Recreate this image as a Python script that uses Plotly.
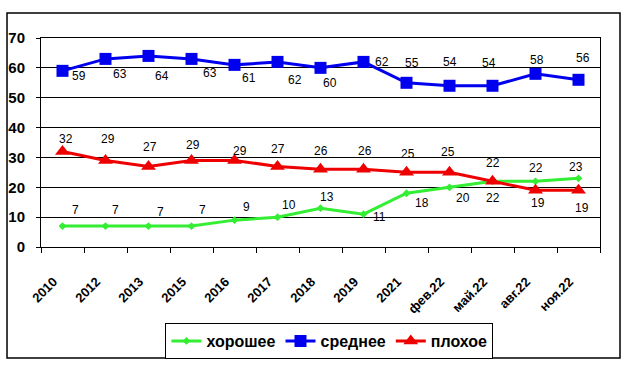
import plotly.graph_objects as go

categories = ["2010", "2012", "2013", "2015", "2016", "2017", "2018", "2019",
              "2021", "фев.22", "май.22", "авг.22", "ноя.22"]
good = [7, 7, 7, 7, 9, 10, 13, 11, 18, 20, 22, 22, 23]
medium = [59, 63, 64, 63, 61, 62, 60, 62, 55, 54, 54, 58, 56]
bad = [32, 29, 27, 29, 29, 27, 26, 26, 25, 25, 22, 19, 19]
y_ticks = [0, 10, 20, 30, 40, 50, 60, 70]

# label pixel offsets (styling)
good_off = [(13, 16), (10, 16), (12, 14), (11, 16), (12, 13), (11, 12), (6, 11),
            (16, -3), (15, -10), (13, -11), (0, -17), (0, 13), (-3, 11)]
medium_off = [(16, -5), (14, -15), (13, -20), (18, -14), (14, -13), (17, -18), (9, -15),
              (18, 0), (5, 20), (0, 24), (-4, 23), (1, 14), (4, 22)]
bad_off = [(3, 12), (2, 21), (1, 19), (1, 15), (5, 9), (0, 17), (0, 18),
           (1, 18), (1, 18), (-2, 20), (0, 18), (2, -13), (3, -18)]

FONT = "Liberation Sans, Arial, sans-serif"

fig = go.Figure()
fig.add_trace(go.Scatter(x=categories, y=good, name="хорошее", mode="lines+markers",
                         line=dict(color="#33EE33", width=3),
                         marker=dict(symbol="diamond", size=6, color="#33EE33")))
fig.add_trace(go.Scatter(x=categories, y=medium, name="среднее", mode="lines+markers",
                         line=dict(color="#0000EE", width=3),
                         marker=dict(symbol="square", size=12, color="#0000EE")))
fig.add_trace(go.Scatter(x=categories, y=bad, name="плохое", mode="lines+markers",
                         line=dict(color="#EE0000", width=3),
                         marker=dict(symbol="triangle-up", size=13, color="#EE0000")))

annotations = []
for vals, offs in ((good, good_off), (medium, medium_off), (bad, bad_off)):
    for i, (v, (dx, dy)) in enumerate(zip(vals, offs)):
        annotations.append(dict(x=i, y=v, text=str(v), showarrow=False,
                                xshift=dx, yshift=dy,
                                font=dict(family=FONT, size=12, color="black")))

fig.update_layout(
    width=630, height=366,
    margin=dict(l=41, r=30, t=38, b=119, autoexpand=False),
    paper_bgcolor="white", plot_bgcolor="white",
    font=dict(family=FONT, color="black"),
    showlegend=True,
    legend=dict(orientation="h", x=0.516, xanchor="center", y=-0.45, yanchor="middle",
                bordercolor="black", borderwidth=1,
                font=dict(family=FONT, size=16, color="black", weight="bold"),
                itemwidth=30),
    annotations=annotations,
    shapes=[dict(type="rect", xref="paper", yref="paper",
                 x0=-0.0608, x1=1.0358, y0=-0.531, y1=1.1196,
                 line=dict(color="black", width=1.5), layer="below")],
)
fig.update_xaxes(type="category", categoryorder="array", categoryarray=categories,
                 range=[-0.5, len(categories) - 0.5], automargin=False,
                 tickson="boundaries", ticks="outside", ticklen=5,
                 tickcolor="black", showline=True, linecolor="black", linewidth=1,
                 mirror=True, showgrid=False, tickangle=-45,
                 ticklabelstandoff=21, ticklabelshift=-9,
                 tickfont=dict(family=FONT, size=13, color="black", weight="bold"))
fig.update_yaxes(range=[0, 70], tickvals=y_ticks, ticks="outside", ticklen=4,
                 tickcolor="black", showline=True, linecolor="black", linewidth=1,
                 mirror=True, showgrid=True, gridcolor="black", gridwidth=1,
                 zeroline=False, ticklabelstandoff=8, automargin=False,
                 tickfont=dict(family=FONT, size=15, color="black", weight="bold"))

fig.write_html("out.html", config={"displayModeBar": False},
               post_script="document.body.style.margin='0';document.body.style.padding='0';")
